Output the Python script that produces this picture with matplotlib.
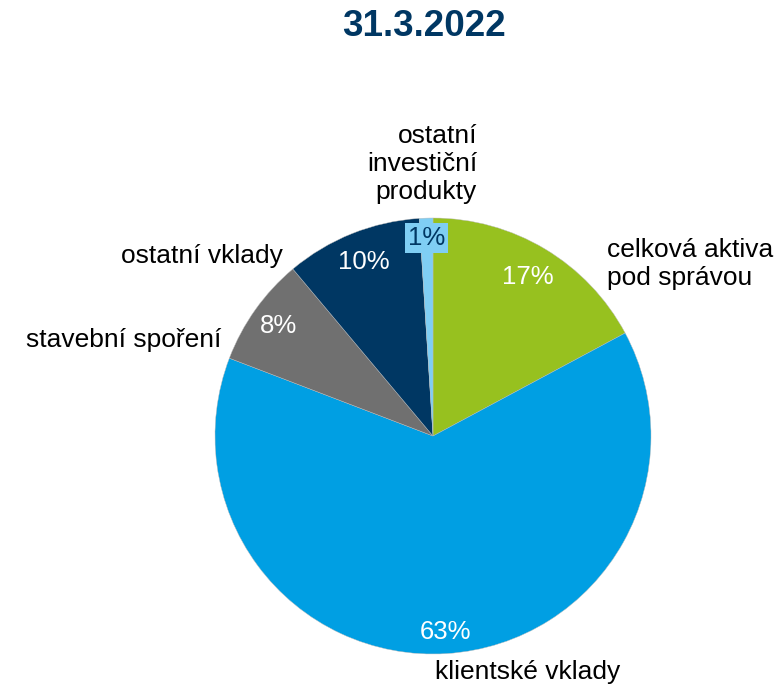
import matplotlib
matplotlib.use("Agg")
import matplotlib.pyplot as plt
import numpy as np

plt.rcParams['font.family'] = ['Liberation Sans', 'DejaVu Sans']

# struktura klientských aktiv k 31.3.2022 (v %)
categories = ["celková aktiva\npod správou", "klientské vklady", "stavební spoření",
              "ostatní vklady", "ostatní\ninvestiční\nprodukty"]
shares = [17, 63, 8, 10, 1]
colors = ["#97C11F", "#009FE3", "#707070", "#003763", "#7FCEF4"]
pct_colors = ["white", "white", "white", "white", "#003763"]
pct_dist = [0.85, 0.90, 0.87, 0.86, 0.91]

fig = plt.figure(figsize=(7.77, 6.88), dpi=100)
ax = fig.add_axes([215 / 777, 34 / 688, 436 / 777, 436 / 688])

wedges, _ = ax.pie(shares, colors=colors, startangle=90, counterclock=False,
                   wedgeprops=dict(linewidth=0.3, edgecolor="#bbbbbb"))
ax.set_xlim(-1, 1)
ax.set_ylim(-1, 1)
ax.set_aspect("equal")
ax.axis("off")

# procenta uvnitř výsečí
for w, v, c, d in zip(wedges, shares, pct_colors, pct_dist):
    mid = np.deg2rad((w.theta1 + w.theta2) / 2)
    box = None
    if v == 1:
        box = dict(boxstyle="square,pad=0.12", fc=w.get_facecolor(), ec="none")
    ax.text(d * np.cos(mid), d * np.sin(mid), f"{v}%", color=c, fontsize=18.5,
            ha="center", va="center", bbox=box)

# popisky kategorií
label_pos = [(0.798, 0.789, "left"), (0.436, -1.083, "center"), (-0.972, 0.440, "right"),
             (-0.688, 0.826, "right"), (0.202, 1.248, "right")]
for name, (x, y, ha) in zip(categories, label_pos):
    ax.text(x, y, name, fontsize=19, ha=ha, va="center", color="black",
            linespacing=1.2, multialignment=ha if ha != "center" else "center")

fig.text(424 / 777, 1 - 27 / 688, "31.3.2022", fontsize=26.5, fontweight="bold",
         color="#003763", ha="center", va="center")

fig.savefig("out.png", dpi=100)
